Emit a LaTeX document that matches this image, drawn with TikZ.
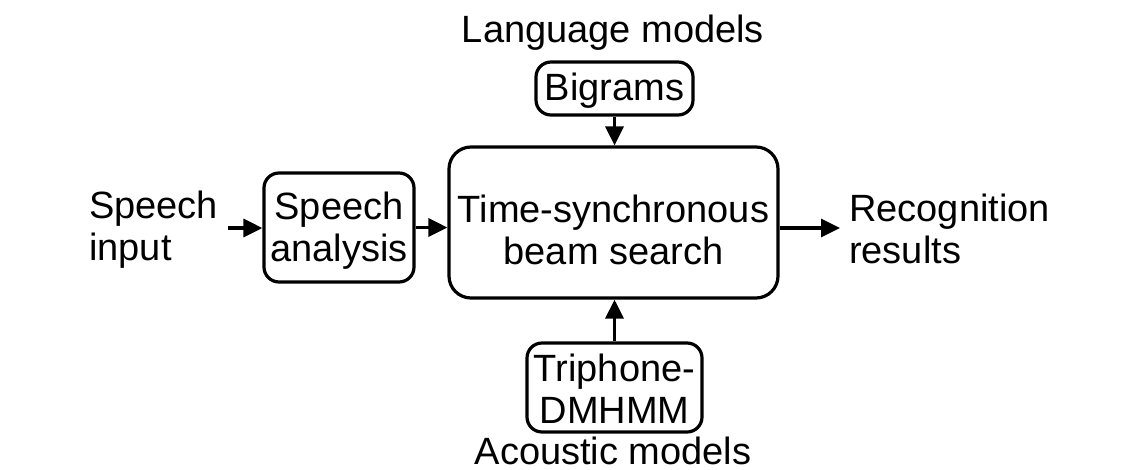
\documentclass[tikz,border=0pt]{standalone}
\usepackage{fontspec}
\setmainfont{Liberation Sans}
\usetikzlibrary{arrows.meta}
\begin{document}
\begin{tikzpicture}[x=1pt,y=-1pt,
  lbl/.style={font=\fontsize{38}{42}\selectfont, inner sep=0pt},
  box/.style={draw, line width=3.2pt, rounded corners=15pt, inner sep=0pt},
  conn/.style={line width=3.2pt, -{Triangle[length=19pt,width=18pt]}}]
\useasboundingbox (0,0) rectangle (1137,469);
\node[lbl, anchor=base] (lm) at (613,42) {Language models};
\node[box, minimum width=157pt, minimum height=53pt] (big) at (614.5,88.5) {};
\node[lbl, anchor=base] (bigtext) at (614.5,100) {Bigrams};
\node[box, minimum width=329pt, minimum height=151pt, rounded corners=22pt] (main) at (613.5,222.5) {};
\node[lbl, align=center] (maintext) at (613.5,230) {Time-synchronous\\beam search};
\node[box, minimum width=150pt, minimum height=109pt] (sa) at (339,227.5) {};
\node[lbl, align=center] (satext) at (339,231) {Speech\\analysis};
\node[lbl, align=left, anchor=west] (si) at (89,230) {Speech\\input};
\node[lbl, align=left, anchor=west] (rr) at (849,229) {Recognition\\results};
\node[box, minimum width=175pt, minimum height=89pt] (tri) at (614.5,387.5) {};
\node[lbl, align=center] (tritext) at (614.5,389) {Triphone-\\DMHMM};
\node[lbl, anchor=base] (am) at (613,464) {Acoustic models};
\coordinate (sistart) at (228,228);
\coordinate (rrend) at (840,228);
\draw[conn] (sistart) -- (sistart -| sa.west);
\draw[conn] (sa.east) -- (sa.east -| main.west);
\draw[conn] (main.east |- rrend) -- (rrend);
\draw[conn] (big.south) -- (big.south |- main.north);
\draw[conn] (tri.north) -- (tri.north |- main.south);
\end{tikzpicture}
\end{document}
